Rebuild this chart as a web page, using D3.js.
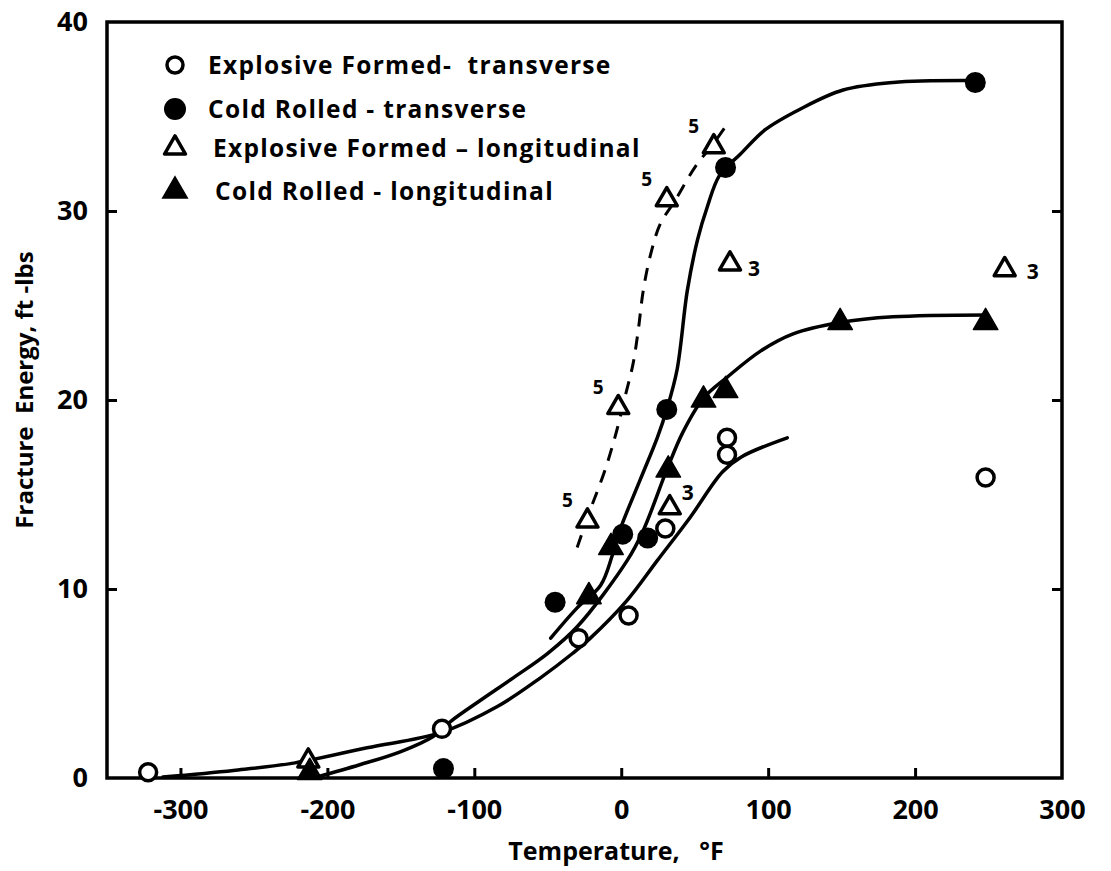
<!DOCTYPE html>
<html>
<head>
    <style>
        html,
        body {
            width: 100%;
            height: 100%;
            margin: 0;
            padding: 0;
            overflow: hidden;
            background: #fff;
        }
        text {
            font-family: "Open Sans", "DejaVu Sans", sans-serif;
            font-weight: 700;
            fill: #000;
        }
    </style>
</head>
<body>
<script src="https://d3js.org/d3.v7.min.js"></script>
<script>
    // measured points [temperature °F, fracture energy ft-lbs]
    const efTransverse = [[-322, 0.3], [-122, 2.6], [-29, 7.4], [5, 8.6], [30, 13.2], [72, 18.0], [72, 17.1], [248, 15.9]];
    const crTransverse = [[-121, 0.5], [-45, 9.3], [1, 12.9], [18, 12.7], [31, 19.5], [71, 32.3], [241, 36.8]];
    const efLongitudinal = [[-213, 0.9], [-23, 13.6], [-2, 19.6], [31, 30.6], [63, 33.4], [74, 27.2], [33, 14.3], [261, 26.9]];
    const efLongCounts = ["", "5", "5", "5", "5", "3", "3", "3"];
    const crLongitudinal = [[-212, 0.3], [-22, 9.6], [-7, 12.2], [32, 16.3], [56, 20.0], [71, 20.5], [149, 24.1], [248, 24.1]];

    // hand drawn fitted curves
    const crTransCurve = [[-48, 7.4], [-30, 9.0], [-14, 10.2], [-6, 11.8], [-1, 13.1], [13, 15.8], [24.5, 18.0], [31, 19.5],
        [38, 21.6], [45, 25.8], [52, 28.5], [58.5, 30.2], [67, 31.9], [81, 33.0], [98, 34.3], [122, 35.4], [151, 36.4], [185, 36.8], [236, 36.9]];
    const crLongCurve = [[-207, 0.05], [-178, 0.7], [-150, 1.4], [-128, 2.2], [-116, 3.0], [-96, 4.1], [-73.5, 5.3], [-50, 6.6],
        [-30, 8.0], [4, 11.5], [15, 13.1], [31, 16.3], [42, 18.3], [56, 20.1], [72, 21.2], [95, 22.6], [117, 23.5], [149, 24.1], [185, 24.4], [249, 24.5]];
    const efTransCurve = [[-312, 0.05], [-264, 0.4], [-222, 0.8], [-173, 1.6], [-123, 2.4], [-84, 3.8], [-55, 5.3], [-33, 6.6],
        [-21, 7.4], [4, 9.4], [24.5, 11.5], [47, 13.8], [69, 16.2], [82, 17.0], [113, 18.0]];
    const efLongCurve = [[-30, 12.2], [-21, 14.2], [-11, 16.3], [-3, 18.4], [3, 20.3], [8, 21.9], [11.6, 23.7], [15, 25.8],
        [20, 27.7], [26.5, 29.3], [37, 30.6], [50, 32.3], [63, 33.6], [73, 34.7]];

    const xTicks = [-300, -200, -100, 0, 100, 200, 300];
    const yTicks = [0, 10, 20, 30, 40];
    const legendLabels = ["Explosive Formed-  transverse", "Cold Rolled - transverse", "Explosive Formed \u2013 longitudinal", "Cold Rolled - longitudinal"];

    const width = 1111, height = 871;
    const svg = d3.select("body").append("svg").attr("width", width).attr("height", height);

    const x = d3.scaleLinear().domain([-350, 300]).range([107, 1062]);
    const y = d3.scaleLinear().domain([0, 40]).range([778, 22]);

    // frame
    svg.append("rect")
        .attr("x", x(-350)).attr("y", y(40))
        .attr("width", x(300) - x(-350)).attr("height", y(0) - y(40))
        .attr("fill", "none").attr("stroke", "#000").attr("stroke-width", 3.5);

    // axes, ticks inward
    const xAxis = svg.append("g").attr("transform", `translate(0,${y(0)})`)
        .call(d3.axisBottom(x).tickValues(xTicks).tickSize(-10).tickPadding(22).tickFormat(d => String(d)));
    const yAxis = svg.append("g").attr("transform", `translate(${x(-350)},0)`)
        .call(d3.axisLeft(y).tickValues(yTicks).tickSize(-10).tickPadding(19));
    const yAxisR = svg.append("g").attr("transform", `translate(${x(300)},0)`)
        .call(d3.axisRight(y).tickValues([10, 20, 30]).tickSize(-10).tickFormat(""));
    [xAxis, yAxis, yAxisR].forEach(g => {
        g.select(".domain").remove();
        g.selectAll(".tick line").attr("stroke", "#000").attr("stroke-width", 3);
        g.selectAll(".tick text").style("font-size", "27px").style("font-family", "'Open Sans', sans-serif").style("font-weight", 700);
    });
    xAxis.selectAll(".tick").filter(d => d === 300).select("line").remove();
    yAxis.selectAll(".tick").filter(d => d === 0 || d === 40).select("line").remove();

    // axis titles
    svg.append("text")
        .attr("x", 616).attr("y", 860)
        .attr("text-anchor", "middle")
        .style("font-size", "25px")
        .style("white-space", "pre")
        .text("Temperature,   \u00b0F");
    svg.append("text")
        .attr("transform", "translate(33,390) rotate(-90)")
        .attr("text-anchor", "middle")
        .style("font-size", "24px")
        .style("white-space", "pre")
        .text("Fracture  Energy, ft -lbs");

    // curves
    const line = d3.line().x(d => x(d[0])).y(d => y(d[1])).curve(d3.curveCatmullRom.alpha(0.5));
    [crTransCurve, crLongCurve, efTransCurve].forEach(c => {
        svg.append("path").attr("d", line(c))
            .attr("fill", "none").attr("stroke", "#000").attr("stroke-width", 3.5).attr("stroke-linecap", "round");
    });
    svg.append("path").attr("d", line(efLongCurve))
        .attr("fill", "none").attr("stroke", "#000").attr("stroke-width", 3)
        .attr("stroke-dasharray", "13,10");

    // markers
    const triOpen = d3.symbol().type(d3.symbolTriangle).size(190);
    const triFull = d3.symbol().type(d3.symbolTriangle).size(260);

    svg.append("g").selectAll("path")
        .data(efLongitudinal)
        .join("path")
        .attr("transform", d => `translate(${x(d[0])},${y(d[1])})`)
        .attr("d", triOpen())
        .attr("fill", "#fff").attr("stroke", "#000").attr("stroke-width", 3.5).attr("stroke-linejoin", "round");

    svg.append("g").selectAll("path")
        .data(crLongitudinal)
        .join("path")
        .attr("transform", d => `translate(${x(d[0])},${y(d[1])})`)
        .attr("d", triFull())
        .attr("fill", "#000").attr("stroke", "#000").attr("stroke-width", 1.5).attr("stroke-linejoin", "round");

    svg.append("g").selectAll("circle")
        .data(efTransverse)
        .join("circle")
        .attr("cx", d => x(d[0])).attr("cy", d => y(d[1]))
        .attr("r", 8.5)
        .attr("fill", "#fff").attr("stroke", "#000").attr("stroke-width", 3.5);

    svg.append("g").selectAll("circle")
        .data(crTransverse)
        .join("circle")
        .attr("cx", d => x(d[0])).attr("cy", d => y(d[1]))
        .attr("r", 10.5)
        .attr("fill", "#000");

    // specimen count labels next to the open triangles
    const countOffset = c => c === "5" ? [-20, -14] : [24, 12];
    svg.append("g").selectAll("text")
        .data(efLongitudinal.map((d, i) => ({ d, c: efLongCounts[i], i })).filter(o => o.c))
        .join("text")
        .attr("x", o => x(o.d[0]) + (o.i === 6 ? 18 : o.i === 7 ? 28 : countOffset(o.c)[0]))
        .attr("y", o => y(o.d[1]) + (o.i === 6 ? -8 : o.i === 7 ? 9 : countOffset(o.c)[1]))
        .attr("text-anchor", "middle")
        .style("font-size", o => o.c === "5" ? "19px" : "21px")
        .text(o => o.c);

    // legend
    const legendRows = [65, 109, 148, 191];
    const legendTextX = [208, 208, 213, 215];
    const lg = svg.append("g");
    lg.append("circle").attr("cx", 175).attr("cy", legendRows[0]).attr("r", 8)
        .attr("fill", "#fff").attr("stroke", "#000").attr("stroke-width", 3.5);
    lg.append("circle").attr("cx", 175).attr("cy", legendRows[1]).attr("r", 11).attr("fill", "#000");
    lg.append("path").attr("transform", `translate(175,${legendRows[2]})`).attr("d", triOpen())
        .attr("fill", "#fff").attr("stroke", "#000").attr("stroke-width", 3.5).attr("stroke-linejoin", "round");
    lg.append("path").attr("transform", `translate(175,${legendRows[3]})`).attr("d", triFull())
        .attr("fill", "#000").attr("stroke", "#000").attr("stroke-width", 1.5);
    lg.selectAll("text")
        .data(legendLabels)
        .join("text")
        .attr("x", (d, i) => legendTextX[i])
        .attr("y", (d, i) => legendRows[i] + 9)
        .style("font-size", "24.5px")
        .style("letter-spacing", "1.3px")
        .style("white-space", "pre")
        .text(d => d);
</script>
</body>
</html>
